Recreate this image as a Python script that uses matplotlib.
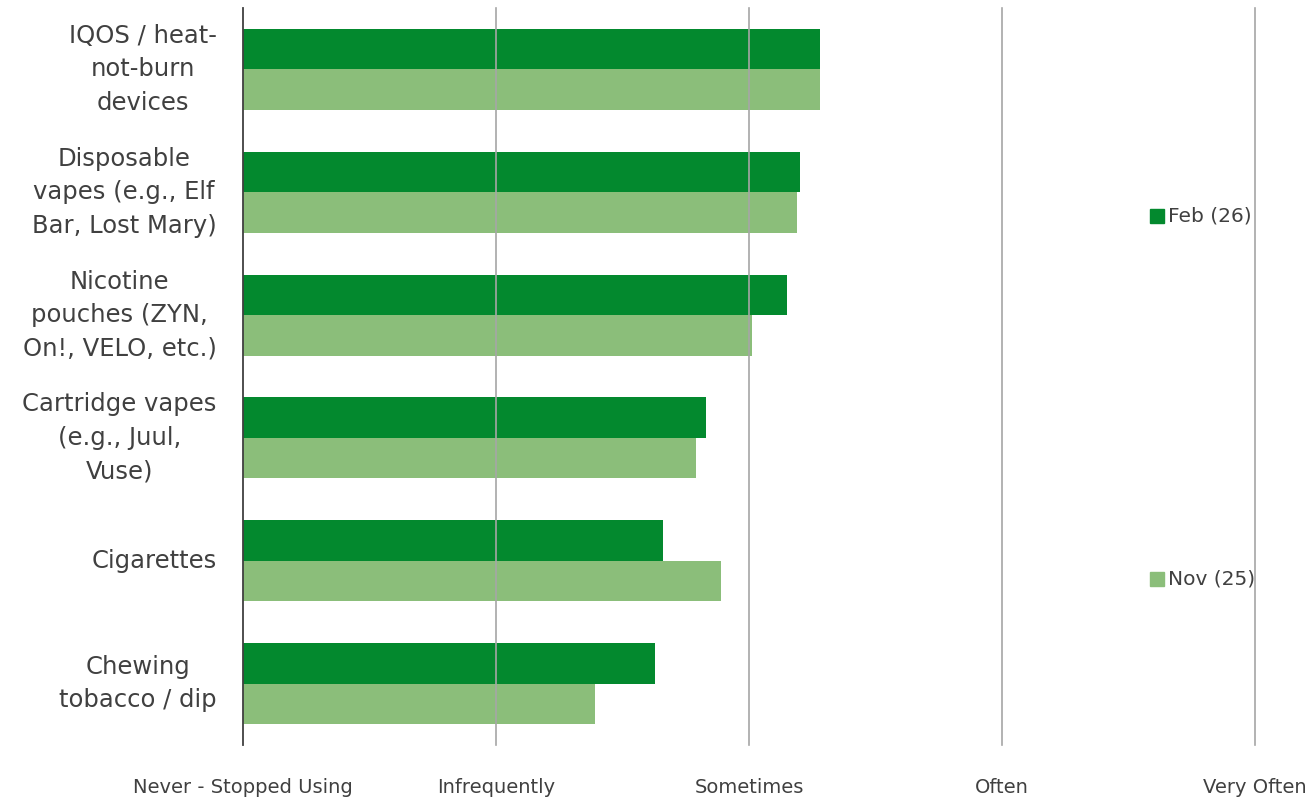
import numpy as np
import matplotlib.pyplot as plt

categories = ["IQOS / heat-\nnot-burn\ndevices",
              "Disposable\nvapes (e.g., Elf\nBar, Lost Mary)",
              "Nicotine\npouches (ZYN,\nOn!, VELO, etc.)",
              "Cartridge vapes\n(e.g., Juul,\nVuse)",
              "Cigarettes",
              "Chewing\ntobacco / dip"]
feb_26 = [3.28, 3.20, 3.15, 2.83, 2.66, 2.63]
nov_25 = [3.28, 3.19, 3.01, 2.79, 2.89, 2.39]
tick_vals = [1, 2, 3, 4, 5]
tick_labels = ["Never - Stopped Using", "Infrequently", "Sometimes", "Often", "Very Often"]

dark = "#03892E"
light = "#8BBE7A"
txt = "#404040"

fig = plt.figure(figsize=(13.06, 8.05), dpi=100)
ax = fig.add_axes([243 / 1306, 1 - 745 / 805, (1255 - 243) / 1306, (745 - 8) / 805])

y = np.arange(len(categories))
h = 0.33
ax.barh(y - h / 2, np.array(feb_26) - 1, left=1, height=h, color=dark, zorder=1)
ax.barh(y + h / 2, np.array(nov_25) - 1, left=1, height=h, color=light, zorder=1)

ax.set_xlim(1, 5)
ax.set_ylim(len(categories) - 0.5, -0.5)

for v in tick_vals[1:]:
    ax.axvline(v, color="#A6A6A6", lw=1.2, zorder=3, clip_on=False)

ax.set_xticks(tick_vals)
ax.set_xticklabels(tick_labels, fontsize=14, color=txt)
ax.tick_params(axis="x", length=0, pad=24)
ax.set_yticks(y)
ax.set_yticklabels(categories, fontsize=17.5, color=txt, linespacing=1.5,
                   ha="right", va="center", multialignment="center")
ax.tick_params(axis="y", length=0, pad=19)

for s in ["top", "right", "bottom"]:
    ax.spines[s].set_visible(False)
ax.spines["left"].set_color("#404040")
ax.spines["left"].set_linewidth(1.3)

# legend, split as in the original
for lab, col, yp in [("Feb (26)", dark, 216), ("Nov (25)", light, 579)]:
    fy = 1 - yp / 805
    fig.patches.append(plt.Rectangle((1150 / 1306, fy - 7 / 805), 14 / 1306, 14 / 805,
                                     transform=fig.transFigure, color=col))
    fig.text(1168 / 1306, fy, lab, fontsize=14.5, color=txt, va="center", ha="left")

fig.savefig("out.png", dpi=100)
